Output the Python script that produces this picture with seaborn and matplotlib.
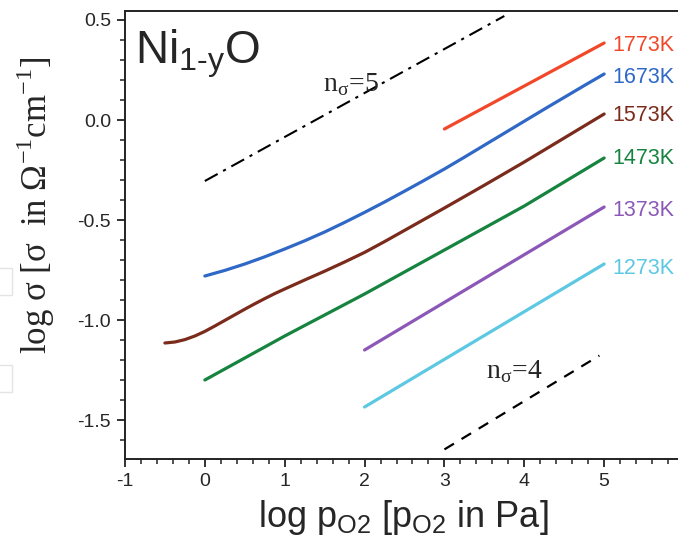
import numpy as np
import pandas as pd
import matplotlib
matplotlib.use("Agg")
import matplotlib.pyplot as plt
from matplotlib.ticker import MultipleLocator
from matplotlib.patches import Rectangle
import seaborn as sns

# Conductivity isotherms of Ni(1-y)O: log sigma versus log pO2
x_1773 = [3.0, 5.0]
y_1773 = [-0.045, 0.385]

x_1673 = [0.0, 0.25, 0.5, 0.75, 1.0, 1.25, 1.5, 1.75, 2.0, 2.25, 2.5, 2.75,
          3.0, 3.25, 3.5, 3.75, 4.0, 4.25, 4.5, 4.75, 5.0]
y_1673 = [-0.78, -0.752, -0.72, -0.684, -0.645, -0.604, -0.56, -0.512, -0.462,
          -0.41, -0.356, -0.301, -0.245, -0.186, -0.126, -0.066, -0.006, 0.054,
          0.113, 0.172, 0.23]

x_1573 = [-0.5, -0.375, -0.25, -0.125, 0.0, 0.125, 0.25, 0.375, 0.5, 0.625,
          0.75, 0.875, 1.0, 1.25, 1.5, 1.75, 2.0, 2.25, 2.5, 2.75, 3.0, 3.25,
          3.5, 3.75, 4.0, 4.25, 4.5, 4.75, 5.0]
y_1573 = [-1.115, -1.11, -1.098, -1.08, -1.057, -1.03, -1.002, -0.974, -0.946,
          -0.919, -0.893, -0.868, -0.845, -0.80, -0.756, -0.71, -0.662, -0.608,
          -0.552, -0.496, -0.44, -0.383, -0.326, -0.268, -0.21, -0.15, -0.09,
          -0.03, 0.03]

x_1473 = [0.0, 0.5, 1.0, 1.5, 2.0, 2.5, 3.0, 3.5, 4.0, 4.5, 5.0]
y_1473 = [-1.30, -1.19, -1.08, -0.975, -0.87, -0.76, -0.65, -0.54, -0.43,
          -0.31, -0.19]

x_1373 = [2.0, 5.0]
y_1373 = [-1.15, -0.435]

x_1273 = [2.0, 5.0]
y_1273 = [-1.435, -0.72]

temperatures = ["1773K", "1673K", "1573K", "1473K", "1373K", "1273K"]
colors = ["#F2482A", "#2F68C6", "#7B2B1C", "#16833F", "#8C58B8", "#5CC8E2"]
label_y = [0.375, 0.215, 0.025, -0.19, -0.45, -0.74]

# slope guides
x_n5 = [0.0, 3.75]
y_n5 = [-0.305, 0.52]
x_n4 = [3.0, 4.94]
y_n4 = [-1.647, -1.178]

series = {
    "1773K": (x_1773, y_1773),
    "1673K": (x_1673, y_1673),
    "1573K": (x_1573, y_1573),
    "1473K": (x_1473, y_1473),
    "1373K": (x_1373, y_1373),
    "1273K": (x_1273, y_1273),
}
df = pd.concat(
    [pd.DataFrame({"log_p": xs, "log_sigma": ys, "T": t}) for t, (xs, ys) in series.items()],
    ignore_index=True,
)

sns.set_style("ticks")
plt.rcParams["font.family"] = ["Liberation Sans", "DejaVu Sans"]
plt.rcParams["mathtext.fontset"] = "custom"
plt.rcParams["mathtext.rm"] = "Liberation Sans"

fig = plt.figure(figsize=(6.78, 5.43), dpi=100)
fig.patch.set_facecolor("white")
ax = fig.add_axes([125 / 678, 84 / 543, 559 / 678, 448 / 543])

palette = dict(zip(temperatures, colors))
sns.lineplot(data=df, x="log_p", y="log_sigma", hue="T", palette=palette,
             hue_order=temperatures, linewidth=2.3, legend=False, ax=ax,
             sort=False, estimator=None)

guides = pd.DataFrame({"log_p": x_n5 + x_n4, "log_sigma": y_n5 + y_n4,
                       "n": ["5", "5", "4", "4"]})
sns.lineplot(data=guides[guides.n == "5"], x="log_p", y="log_sigma", color="black",
             linewidth=1.5, ax=ax, estimator=None)
ax.lines[-1].set_dashes([7, 3, 1.5, 3])
sns.lineplot(data=guides[guides.n == "4"], x="log_p", y="log_sigma", color="black",
             linewidth=1.6, ax=ax, estimator=None)
ax.lines[-1].set_dashes([5, 4])

for t, c, yl in zip(temperatures, colors, label_y):
    ax.text(5.1, yl, t, color=c, fontsize=15.5, va="center", ha="left",
            clip_on=False)

serif = ["Liberation Serif", "DejaVu Serif"]
ax.text(1.83, 0.175, r"n$_{\mathregular{σ}}$=5", fontsize=20, family=serif,
        ha="center", va="center")
ax.text(3.88, -1.26, r"n$_{\mathregular{σ}}$=4", fontsize=20, family=serif,
        ha="center", va="center")

ax.text(-0.87, 0.285, "Ni$_{\\mathregular{1\u2010y}}$O", fontsize=33,
        ha="left", va="baseline")

ax.set_xlim(-1, 6)
ax.set_ylim(-1.695, 0.545)
ax.set_xticks([-1, 0, 1, 2, 3, 4, 5])
ax.set_xticklabels(["-1", "0", "1", "2", "3", "4", "5"])
ax.set_yticks([-1.5, -1.0, -0.5, 0.0, 0.5])
ax.set_yticklabels(["-1.5", "-1.0", "-0.5", "0.0", "0.5"])
ax.xaxis.set_minor_locator(MultipleLocator(0.2))
ax.yaxis.set_minor_locator(MultipleLocator(0.1))
ax.tick_params(which="major", direction="out", length=6, width=1.3,
               labelsize=14, pad=4, color="#222222")
ax.tick_params(which="minor", direction="out", length=3.5, width=1.1,
               color="#222222")
ax.tick_params(top=False, right=False, which="both")
for s in ax.spines.values():
    s.set_linewidth(1.4)
    s.set_color("#222222")

ax.set_xlabel("")
ax.set_ylabel("")
fig.text(403 / 678, 1 - 527 / 543,
         r"log p$_{\mathregular{O2}}$ [p$_{\mathregular{O2}}$ in Pa]",
         fontsize=26, ha="center", va="baseline")
fig.text(36 / 678, 1 - 205 / 543,
         r"log σ [σ  in Ω$^{\mathregular{-1}}$cm$^{\mathregular{-1}}$]",
         fontsize=25, family=serif, rotation=90, ha="center", va="center")

# faint frame remnants at the left margin
for yb in (268, 365):
    fig.patches.append(Rectangle((-3 / 678, 1 - (yb + 27) / 543), 15 / 678, 27 / 543,
                                 transform=fig.transFigure, fill=False,
                                 edgecolor="#e4e4e4", linewidth=1.0))

fig.savefig("out.png", dpi=100, facecolor="white")
